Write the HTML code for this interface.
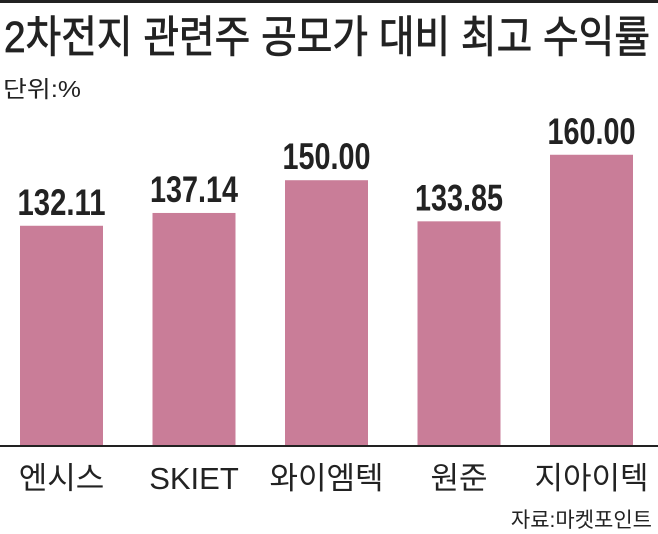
<!DOCTYPE html>
<html><head><meta charset="utf-8"><style>
html,body{margin:0;padding:0;background:#fff;}
svg{display:block;font-family:"Liberation Sans","Noto Sans CJK KR",sans-serif;}
</style></head><body>
<svg width="658" height="534" viewBox="0 0 658 534">
<rect x="0" y="0" width="658" height="3" fill="#222"/>
<text x="4" y="52" font-size="44" fill="#222" stroke="#222" stroke-width="0.8" textLength="646" lengthAdjust="spacingAndGlyphs">2차전지 관련주 공모가 대비 최고 수익률</text>
<text x="3" y="97" font-size="23" fill="#222" textLength="78" lengthAdjust="spacingAndGlyphs">단위:%</text>
<g id="bars"></g>
<line x1="0" y1="446" x2="658" y2="446" stroke="#222" stroke-width="2"/>
<text x="652" y="527" font-size="21" fill="#222" text-anchor="end">자료:마켓포인트</text>
</svg>
<script>
const categories=["엔시스","SKIET","와이엠텍","원준","지아이텍"];
const values=[132.11,137.14,150.00,133.85,160.00];
const labels=["132.11","137.14","150.00","133.85","160.00"];
const NS="http://www.w3.org/2000/svg";
const base=445, vmin=46, scale=2.546;
function y(v){return base-(v-vmin)*scale;}
function xc(i){return 61.5+i*132.5;}
const g=document.getElementById('bars');
categories.forEach((c,i)=>{
  const r=document.createElementNS(NS,'rect');
  r.setAttribute('x',xc(i)-41.5);r.setAttribute('width',83);
  r.setAttribute('y',y(values[i]));r.setAttribute('height',base-y(values[i]));
  r.setAttribute('fill','#c97d98');
  
  
  g.appendChild(r);
  const t=document.createElementNS(NS,'text');
  t.setAttribute('x',xc(i));t.setAttribute('y',y(values[i])-11);
  t.setAttribute('font-size','37');t.setAttribute('font-weight','bold');
  t.setAttribute('text-anchor','middle');t.setAttribute('fill','#222');
  t.setAttribute('textLength','88');t.setAttribute('lengthAdjust','spacingAndGlyphs');
  t.textContent=labels[i];
  
  
  g.appendChild(t);
  const l=document.createElementNS(NS,'text');
  l.setAttribute('x',xc(i));l.setAttribute('y',489);
  l.setAttribute('font-size','31');l.setAttribute('text-anchor','middle');l.setAttribute('fill','#222');
  l.textContent=c;
  
  
  g.appendChild(l);
});
</script>
</body></html>
